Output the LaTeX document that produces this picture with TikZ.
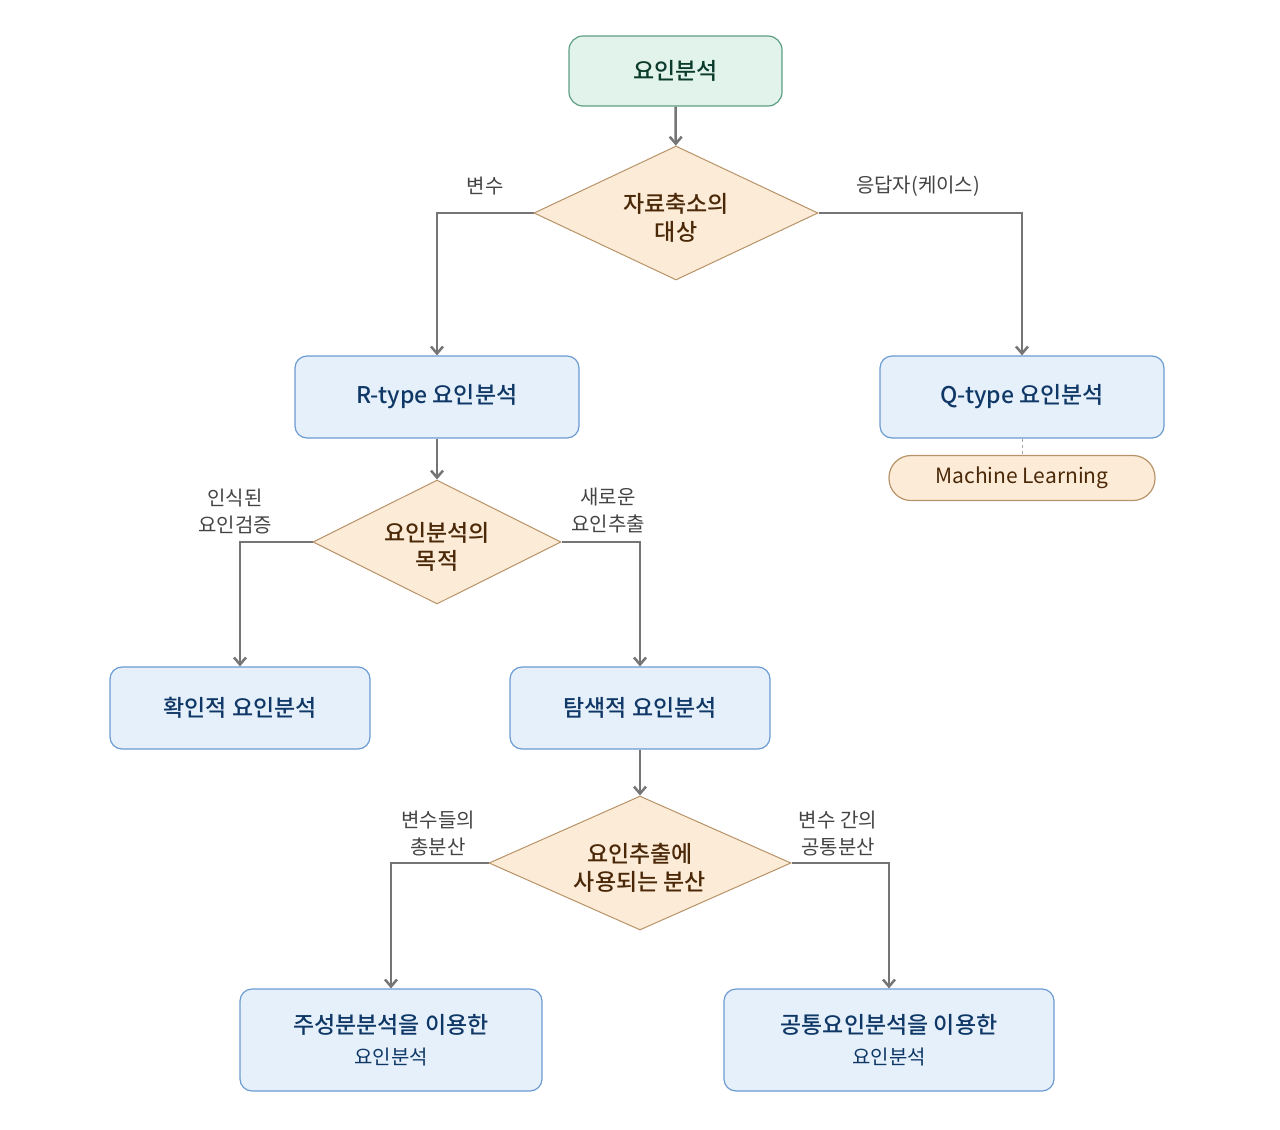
\documentclass[tikz,border=0pt]{standalone}
\usepackage{fontspec}
\setmainfont{Noto Sans CJK KR}[BoldFont={Noto Sans CJK KR Medium}]
\usepackage{tikz}
\usetikzlibrary{shapes.geometric,arrows.meta}
\usepackage{xcolor}
\definecolor{startfill}{HTML}{E1F3EB}
\definecolor{startline}{HTML}{5E9E84}
\definecolor{starttext}{HTML}{0B3B2C}
\definecolor{decfill}{HTML}{FBEBD7}
\definecolor{decline}{HTML}{B89368}
\definecolor{dectext}{HTML}{4B2808}
\definecolor{procfill}{HTML}{E6F0FB}
\definecolor{procline}{HTML}{6C9BD2}
\definecolor{proctext}{HTML}{0F3867}
\definecolor{arrline}{HTML}{757575}
\definecolor{labeltext}{HTML}{444444}
\newcommand{\lowstrut}{\rule{0pt}{28pt}}

\begin{document}
\begin{tikzpicture}[x=1pt,y=-1pt,>={Straight Barb[length=7pt,width=12pt]},
  arr/.style={->,draw=arrline,line width=2.5pt},
  startbox/.style={draw=startline,fill=startfill,text=starttext,line width=1.2pt,rounded corners=14pt,font=\fontsize{23}{28}\selectfont\bfseries},
  procbox/.style={draw=procline,fill=procfill,text=proctext,line width=1.2pt,rounded corners=12pt,align=center,font=\fontsize{23}{31}\selectfont\bfseries},
  decbox/.style={diamond,draw=decline,fill=decfill,text=dectext,line width=1pt,inner sep=0pt,align=center,font=\fontsize{23}{28}\selectfont\bfseries},
  notebox/.style={draw=decline,fill=decfill,text=dectext,line width=1.2pt,rounded corners=22pt,font=\fontsize{21}{24}\selectfont},
  elabel/.style={text=labeltext,align=center,font=\fontsize{20}{27}\selectfont}]
\useasboundingbox (0,0) rectangle (1280,1130);

\node[startbox,minimum width=213pt,minimum height=70pt] (top) at (675.5,71) {요인분석};
\node[decbox,aspect=2.12,minimum width=284pt,minimum height=134pt] (d1) at (676,213) {\lowstrut 자료축소의\\대상};
\node[procbox,minimum width=284pt,minimum height=82pt] (rtype) at (437,397) {R-type 요인분석};
\node[procbox,minimum width=284pt,minimum height=82pt] (qtype) at (1022,397) {Q-type 요인분석};
\node[notebox,minimum width=266pt,minimum height=45pt] (ml) at (1022,478) {Machine Learning};
\node[decbox,aspect=2,minimum width=248pt,minimum height=124pt] (d2) at (437,542) {\lowstrut 요인분석의\\목적};
\node[procbox,minimum width=260pt,minimum height=82pt] (conf) at (240,708) {확인적 요인분석};
\node[procbox,minimum width=260pt,minimum height=82pt] (expl) at (640,708) {탐색적 요인분석};
\node[decbox,aspect=2.25,minimum width=302pt,minimum height=134pt] (d3) at (640,863) {\lowstrut 요인추출에\\사용되는 분산};
\node[procbox,minimum width=302pt,minimum height=102pt] (pca) at (391,1040)
  {주성분분석을 이용한\\{\mdseries\fontsize{20}{22}\selectfont 요인분석}};
\node[procbox,minimum width=330pt,minimum height=102pt] (cfa) at (889,1040)
  {공통요인분석을 이용한\\{\mdseries\fontsize{20}{22}\selectfont 요인분석}};

\node[elabel] (lvar) at (485,186) {변수};
\node[elabel] (lresp) at (918,186) {응답자(케이스)};
\node[elabel] (lknown) at (235,511) {인식된\\요인검증};
\node[elabel] (lnew) at (608,511) {새로운\\요인추출};
\node[elabel] (ltotal) at (438,833) {변수들의\\총분산};
\node[elabel] (lcommon) at (838,833) {변수 간의\\공통분산};

\foreach \a/\b in {top/d1,rtype/d2,expl/d3}
  \draw[arr] (\a) -- (\b);
\foreach \d/\l/\r in {d1/rtype/qtype,d2/conf/expl,d3/pca/cfa}
  {\draw[arr] (\d.west) -| (\l.north);
   \draw[arr] (\d.east) -| (\r.north);}
\draw[draw=black!35,line width=1pt,dashed] (qtype) -- (ml);
\end{tikzpicture}
\end{document}
